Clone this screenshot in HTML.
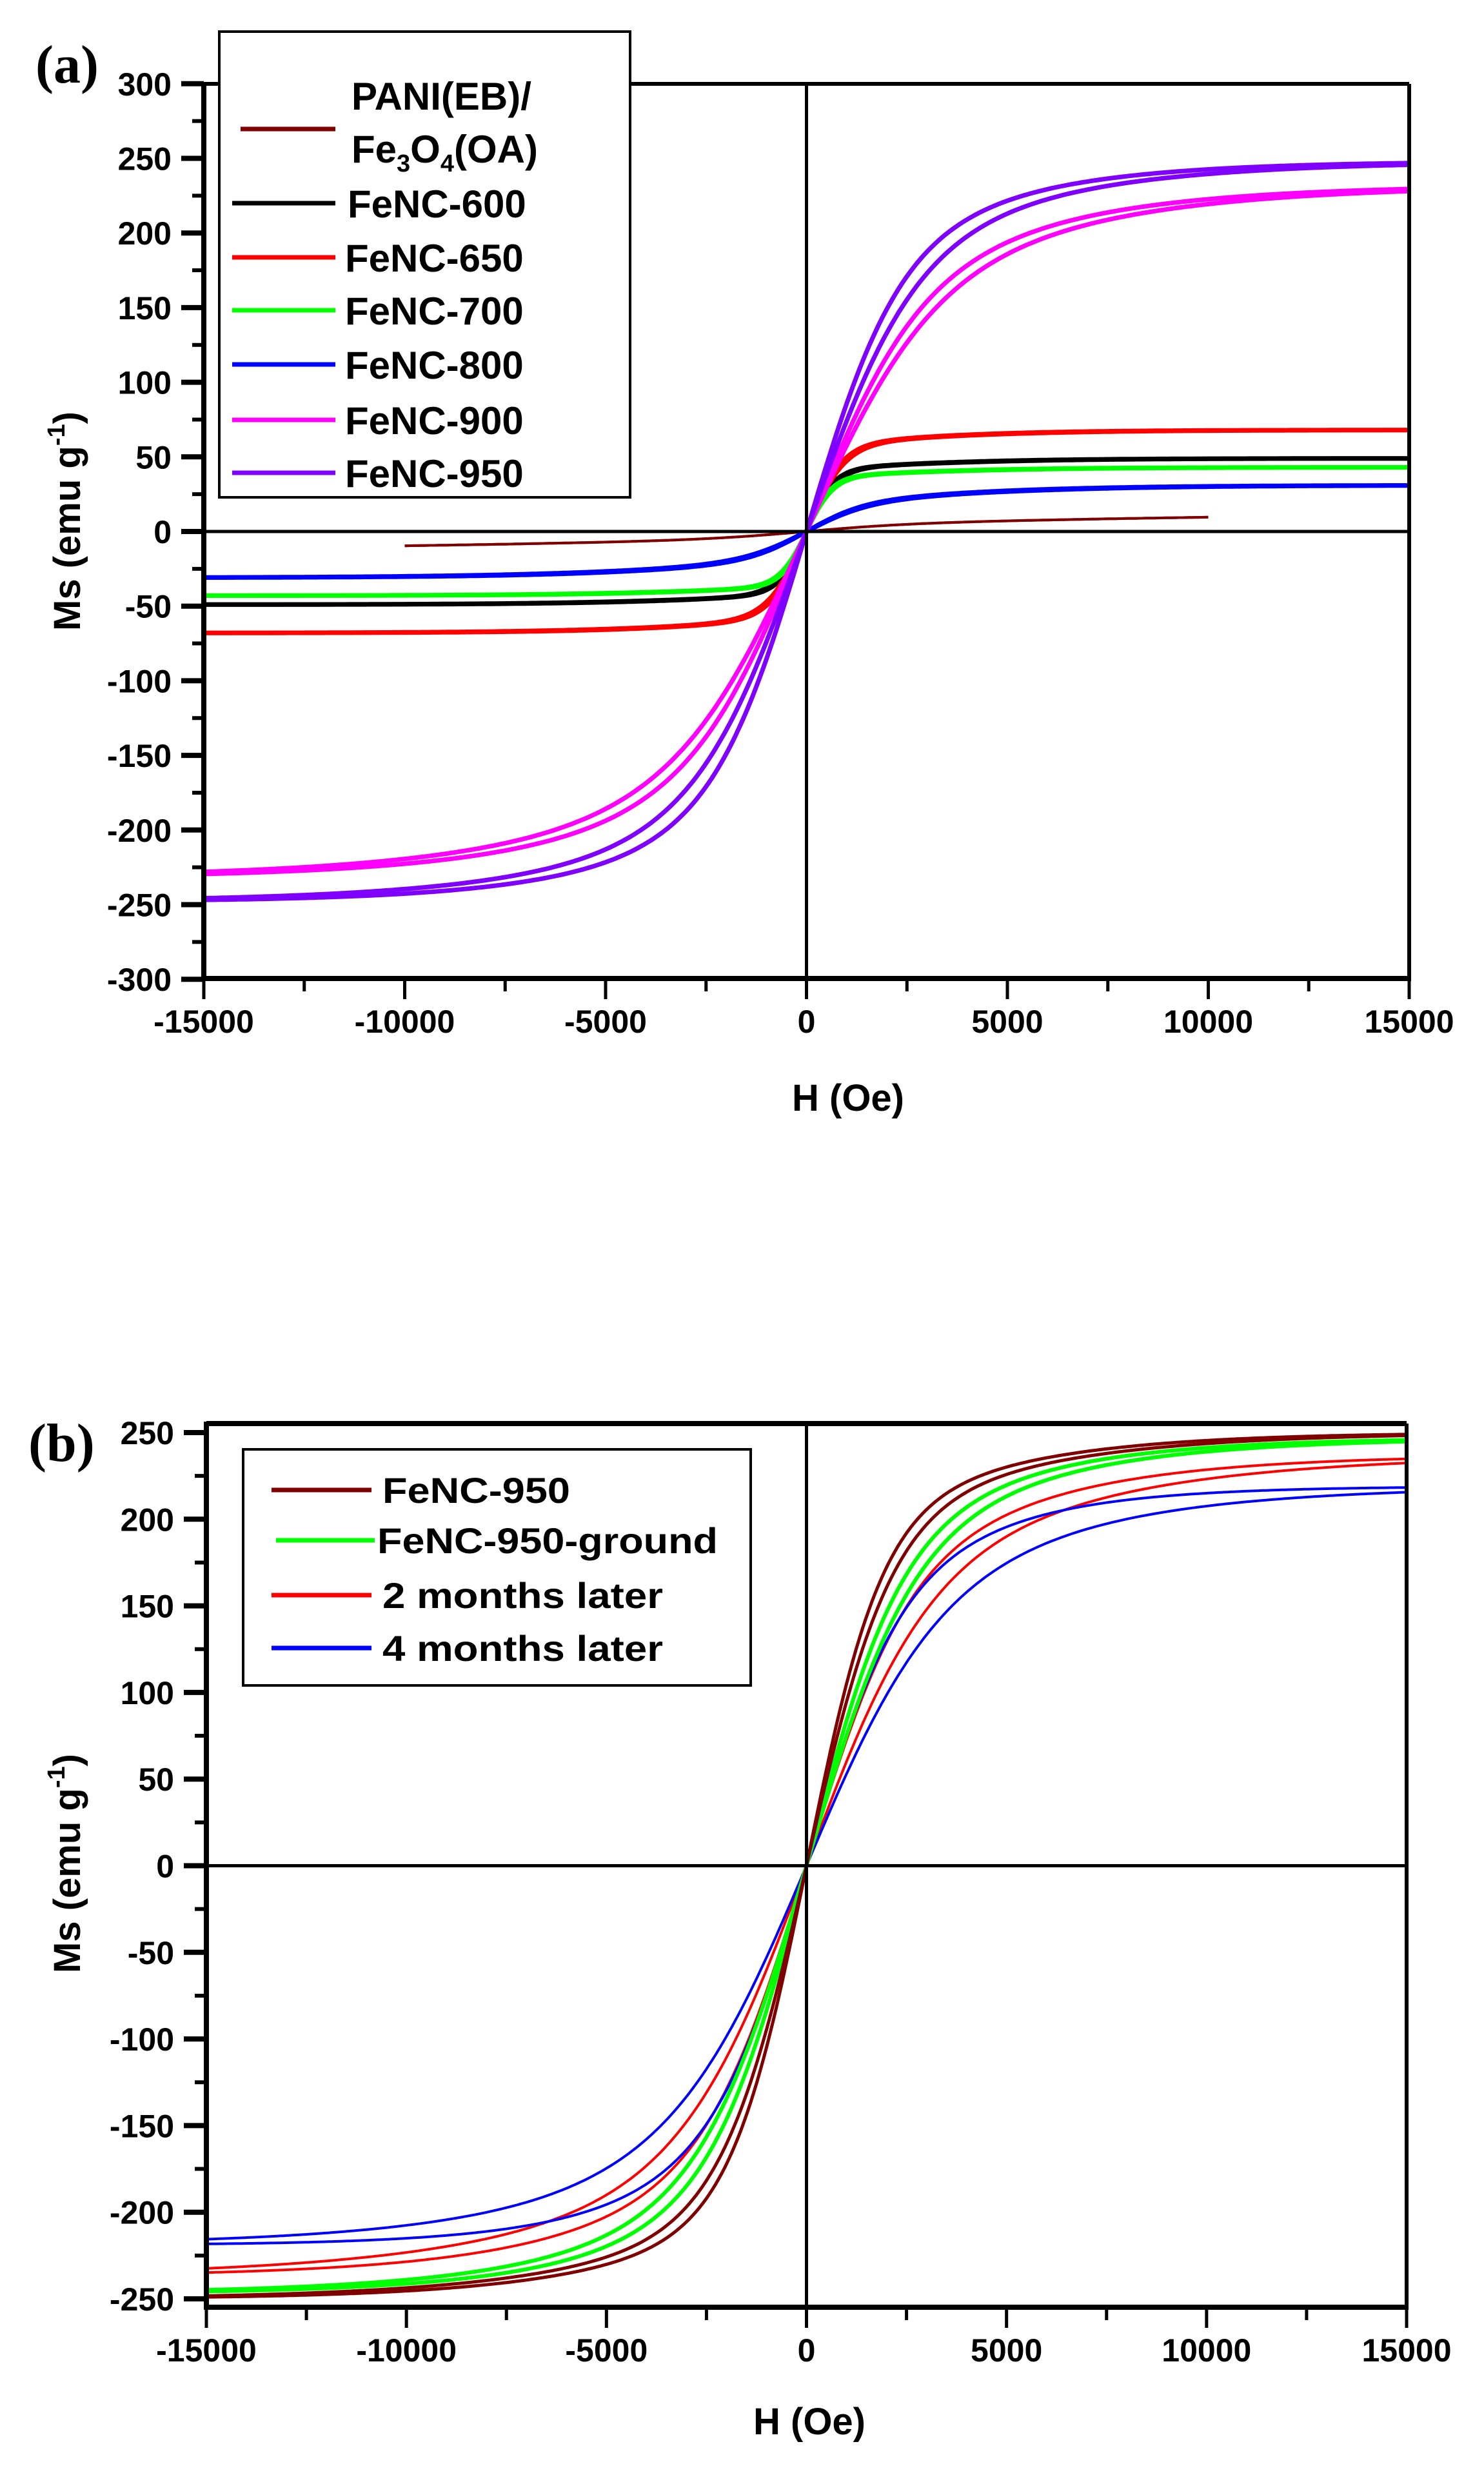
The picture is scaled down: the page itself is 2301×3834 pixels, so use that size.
<!DOCTYPE html>
<html><head><meta charset="utf-8">
<style>html,body{margin:0;padding:0;background:#fff;}svg{display:block;}
text{font-family:"Liberation Sans",Arial,sans-serif;font-weight:bold;fill:#000;}
.t{font-family:"Liberation Serif","Times New Roman",serif;}
</style></head><body>
<svg id="s" xmlns="http://www.w3.org/2000/svg" width="2301" height="3834" viewBox="0 0 2301 3834">
<rect width="2301" height="3834" fill="#fff"/>
<g id="g"></g>
<!-- (a) legend -->
<rect x="340" y="49" width="637" height="722" fill="#fff" stroke="#000" stroke-width="4"/>
<line x1="373" y1="200" x2="520" y2="200" stroke="#800000" stroke-width="7"/>
<text x="545" y="170" font-size="60">PANI(EB)/</text>
<text x="545" y="252" font-size="60">Fe<tspan font-size="38" dy="14">3</tspan><tspan dy="-14">O</tspan><tspan font-size="38" dy="14">4</tspan><tspan dy="-14">(OA)</tspan></text>
<line x1="360" y1="315" x2="520" y2="315" stroke="#000" stroke-width="7"/>
<text x="539" y="337" font-size="60">FeNC-600</text>
<line x1="360" y1="399" x2="520" y2="399" stroke="#ff0000" stroke-width="7"/>
<text x="535" y="421" font-size="60">FeNC-650</text>
<line x1="360" y1="481" x2="520" y2="481" stroke="#00ff00" stroke-width="7"/>
<text x="535" y="503" font-size="60">FeNC-700</text>
<line x1="360" y1="565" x2="520" y2="565" stroke="#0000ff" stroke-width="7"/>
<text x="535" y="587" font-size="60">FeNC-800</text>
<line x1="360" y1="651" x2="520" y2="651" stroke="#ff00ff" stroke-width="7"/>
<text x="535" y="673" font-size="60">FeNC-900</text>
<line x1="360" y1="733" x2="520" y2="733" stroke="#8000ff" stroke-width="7"/>
<text x="535" y="755" font-size="60">FeNC-950</text>
<text class="t" x="55" y="128" font-size="84">(a)</text>
<text x="1315" y="1722" font-size="58" text-anchor="middle">H (Oe)</text>
<text transform="translate(124,808) rotate(-90)" font-size="58" text-anchor="middle">Ms (emu g<tspan font-size="38" dy="-24">-1</tspan><tspan dy="24">)</tspan></text>
<!-- (b) legend -->
<rect x="377" y="2247" width="787" height="366" fill="#fff" stroke="#000" stroke-width="4"/>
<line x1="421" y1="2310" x2="576" y2="2310" stroke="#800000" stroke-width="7"/>
<text x="593" y="2330" font-size="56" textLength="291" lengthAdjust="spacingAndGlyphs">FeNC-950</text>
<line x1="428" y1="2388" x2="581" y2="2388" stroke="#00ff00" stroke-width="7"/>
<text x="585" y="2408" font-size="56" textLength="528" lengthAdjust="spacingAndGlyphs">FeNC-950-ground</text>
<line x1="421" y1="2473" x2="576" y2="2473" stroke="#ff0000" stroke-width="7"/>
<text x="593" y="2493" font-size="56" textLength="435" lengthAdjust="spacingAndGlyphs">2 months later</text>
<line x1="421" y1="2555" x2="576" y2="2555" stroke="#0000ff" stroke-width="7"/>
<text x="593" y="2575" font-size="56" textLength="435" lengthAdjust="spacingAndGlyphs">4 months later</text>
<text class="t" x="44" y="2265" font-size="84">(b)</text>
<text x="1255" y="3774" font-size="58" text-anchor="middle">H (Oe)</text>
<text transform="translate(124,2889) rotate(-90)" font-size="58" text-anchor="middle">Ms (emu g<tspan font-size="38" dy="-24">-1</tspan><tspan dy="24">)</tspan></text>
</svg>
<script>
var NS="http://www.w3.org/2000/svg",g=document.getElementById("g");
function el(n,a){var e=document.createElementNS(NS,n);for(var k in a)e.setAttribute(k,a[k]);g.appendChild(e);return e;}
function line(x1,y1,x2,y2,w,c){el("line",{x1:x1,y1:y1,x2:x2,y2:y2,"stroke-width":w,stroke:c||"#000"});}
function txt(x,y,s,anchor){var t=el("text",{x:x,y:y,"font-size":50,"text-anchor":anchor});t.textContent=s;}
function chart(o){
 var X=function(h){return o.x0+(h+15000)*(o.x1-o.x0)/30000;};
 var Y=function(m){return o.yz-m*o.ppu/50;};
 o.curves.forEach(function(c){
  [1,-1].forEach(function(s){
   var d="",hmin=c.hmin||-15000,hmax=c.hmax||15000;
   for(var h=hmin;h<=hmax;h+=80){
     var sg=h>=0?1:-1, f=1+(c.k||0)*sg*s;
     var m=c.ms*(c.w1*Math.tanh(h/(c.a*f))+(1-c.w1)*Math.tanh(h/(c.b*f)))+(c.lin||0)*h;
     d+=(d?"L":"M")+X(h).toFixed(1)+","+Y(m).toFixed(1);
   }
   el("path",{d:d,fill:"none",stroke:c.col,"stroke-width":c.w||6,"stroke-linejoin":"round"});
  });
 });
 line(o.x0,o.ytop,o.x1,o.ytop,o.tw);
 line(o.x1,o.ytop,o.x1,o.ybot,6);
 line(o.x0,o.ytop-3,o.x0,o.ybot+4,8);
 line(o.x0-4,o.ybot,o.x1+3,o.ybot,8);
 line(X(0),o.ytop,X(0),o.ybot,5);
 line(o.x0,o.yz,o.x1,o.yz,5);
 for(var v=o.ymin;v<=o.ymax;v+=25){
   var y=Y(v),maj=(v%50==0);
   line(maj?o.x0-35:o.x0-18,y,o.x0,y,maj?8:6);
   if(maj)txt(o.x0-50,y+18,String(v),"end");
 }
 for(var h=-15000;h<=15000;h+=2500){
   var x=X(h),maj=(h%5000==0);
   line(x,o.ybot,x,maj?o.ybot+32:o.ybot+20,5);
   if(maj)txt(x,o.ybot+84,String(h),"middle");
 }
}
chart({x0:316,x1:2185,ytop:130,ybot:1517,yz:824,ppu:115.7,ymin:-300,ymax:300,tw:6,
 curves:[
  {col:"#800000",ms:7,w1:0.6,a:2500,b:8000,lin:0.0003,hmin:-10000,hmax:10000,w:4},
  {col:"#000",ms:49,w1:0.85,a:700,b:5000,k:0.05,w:7},
  {col:"#ff0000",ms:68,w1:0.85,a:900,b:5000,k:0.05,w:7},
  {col:"#00ff00",ms:43,w1:0.85,a:650,b:5000,k:0.05,w:7},
  {col:"#0000ff",ms:31,w1:0.6,a:1500,b:6000,k:0.05,w:7},
  {col:"#ff00ff",ms:232,w1:0.7,a:3000,b:8000,k:0.06,w:7},
  {col:"#8000ff",ms:248,w1:0.75,a:2500,b:7000,k:0.08,w:7}
 ]});
chart({x0:320,x1:2181,ytop:2207,ybot:3577,yz:2892.5,ppu:134.3,ymin:-250,ymax:250,tw:8,
 curves:[
  {col:"#ff0000",ms:237,w1:0.7,a:2800,b:8000,k:0.1,w:4},
  {col:"#0000ff",ms:219,w1:0.7,a:2800,b:7000,k:0.18,w:4},
  {col:"#00ff00",ms:247,w1:0.75,a:2500,b:7000,k:0.06,w:6},
  {col:"#800000",ms:250,w1:0.8,a:2000,b:7000,k:0.06,w:5}
 ]});
</script>
</body></html>
